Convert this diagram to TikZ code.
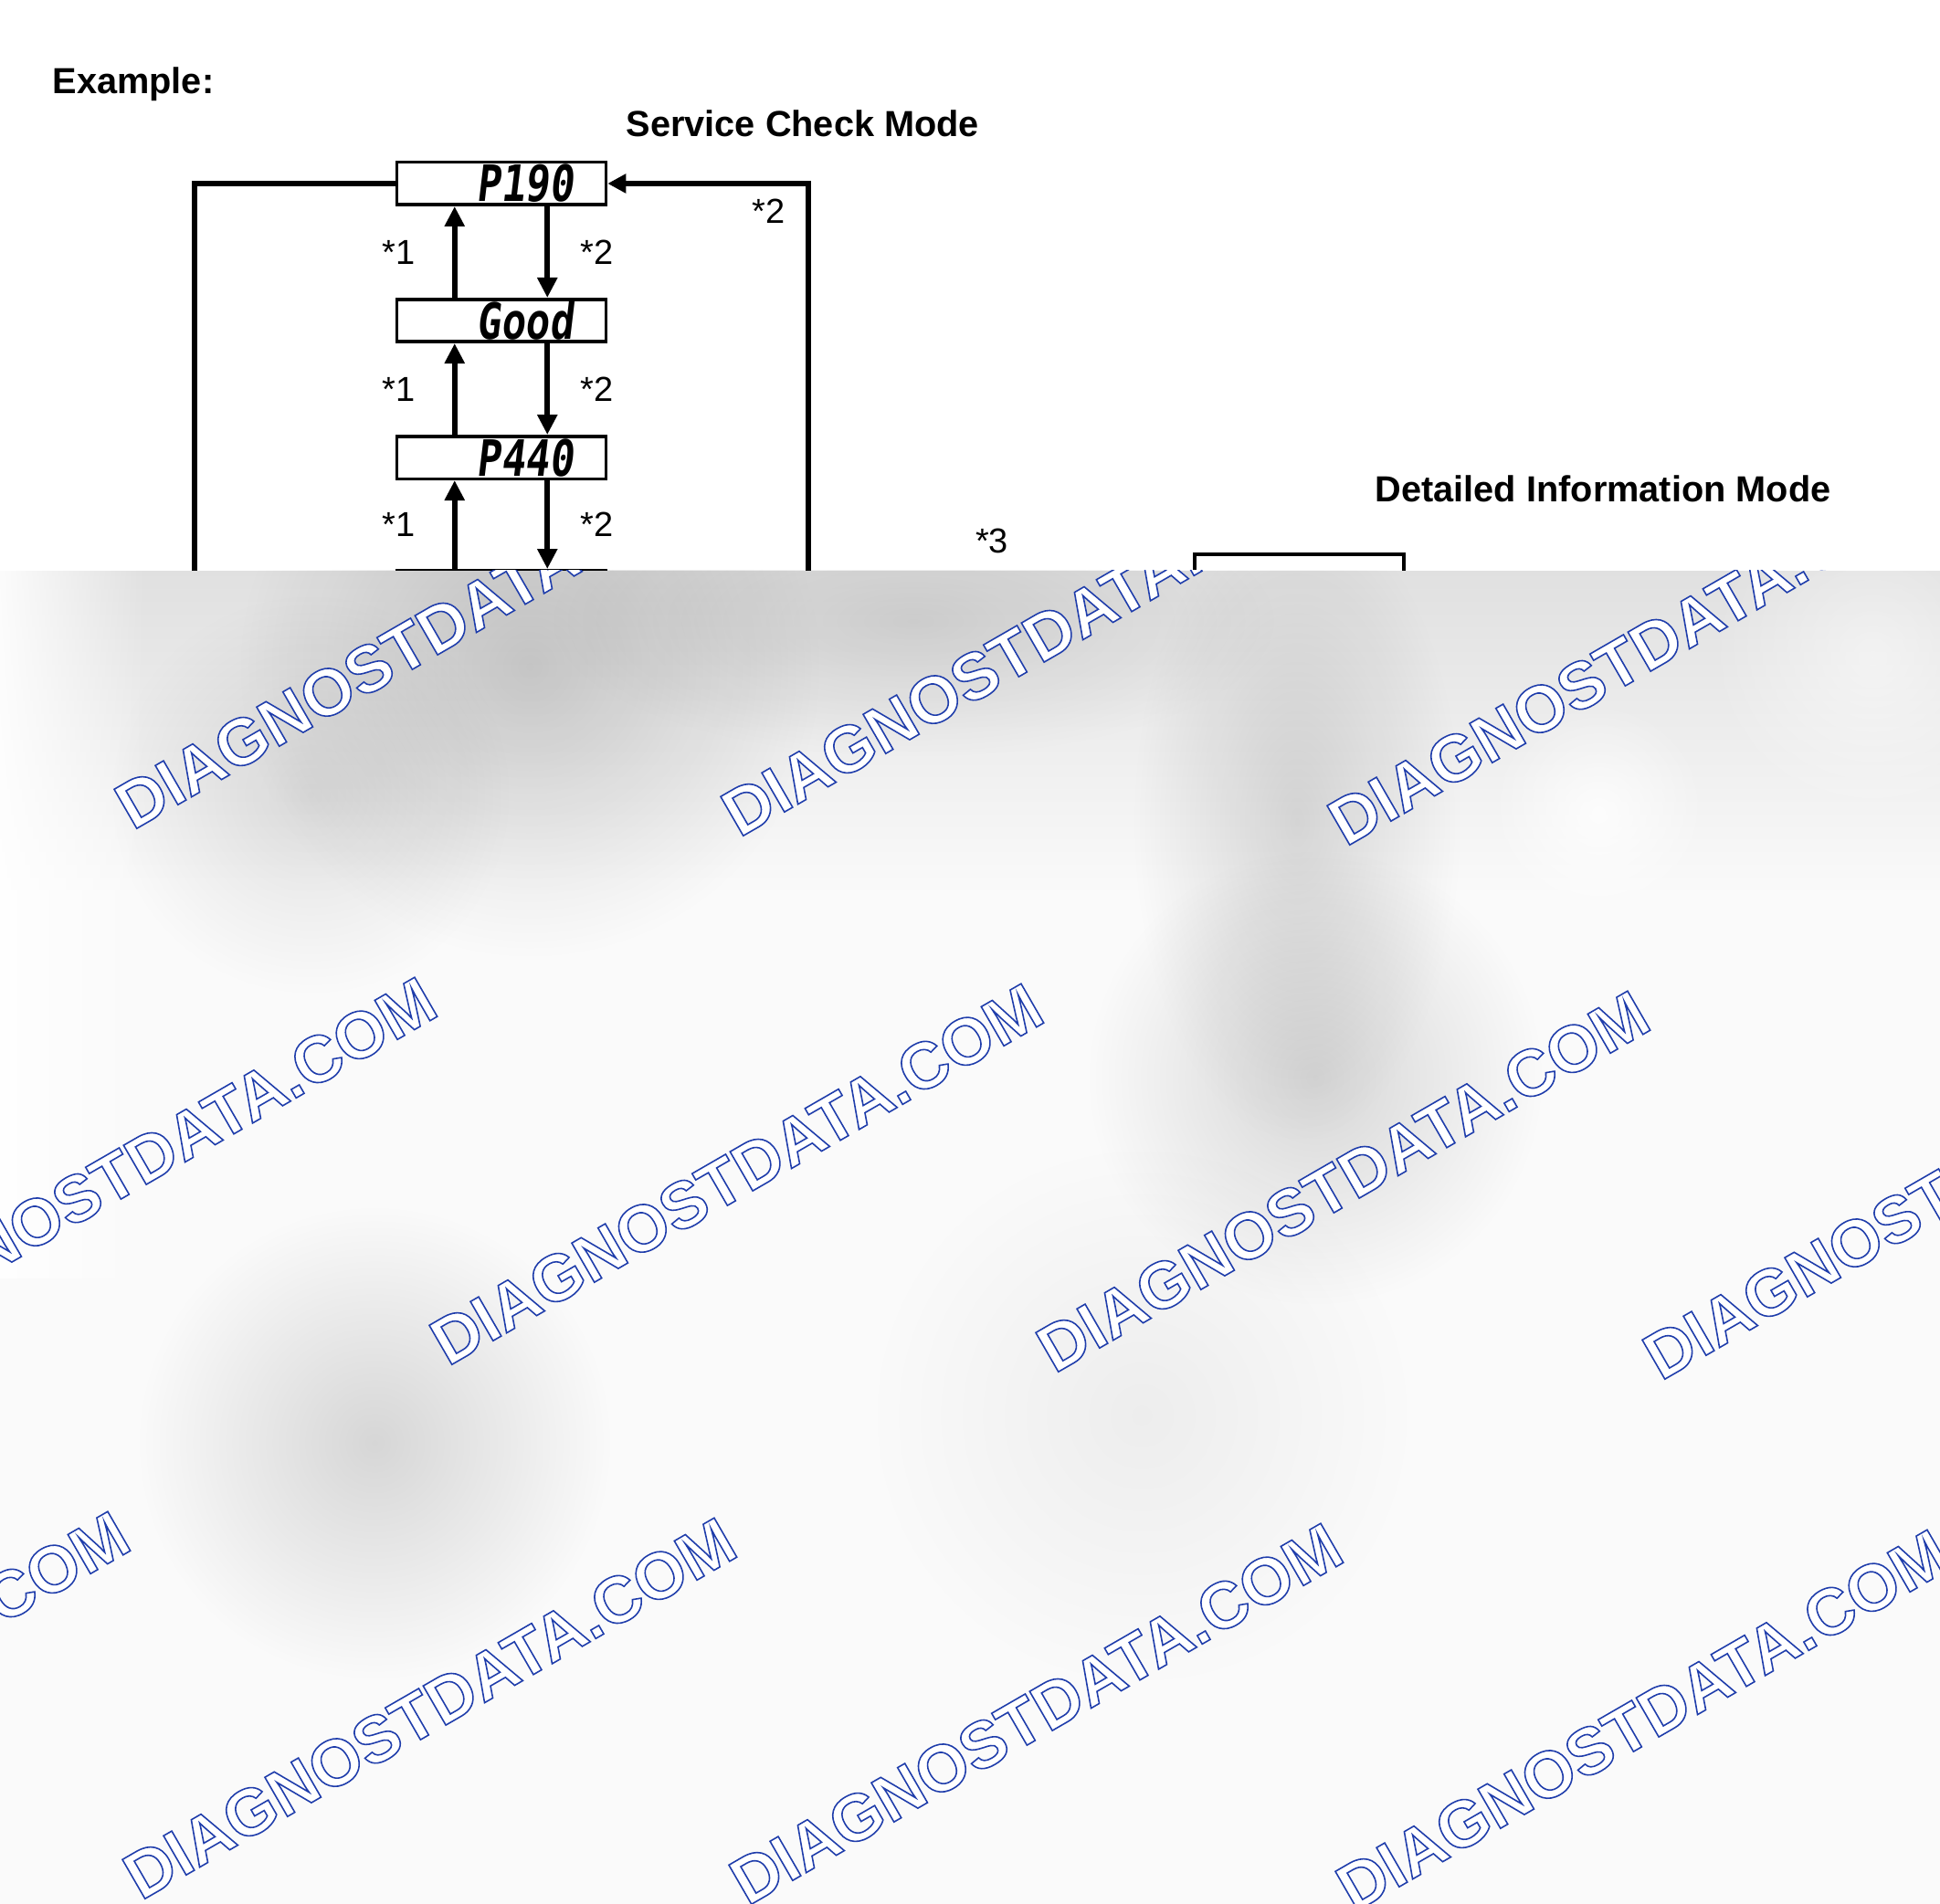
\documentclass[tikz,border=0pt]{standalone}
\usepackage{fontspec}
\setmainfont{Liberation Sans}
\newfontfamily\segfont[FakeSlant=0.12,FakeStretch=0.8]{DejaVu Sans Mono}
\usetikzlibrary{positioning, arrows.meta, fadings}
\tikzfading[name=blob, inner color=transparent!0, outer color=transparent!100]
\tikzfading[name=fadeleft, left color=transparent!0, right color=transparent!100]
\tikzfading[name=fadedown, top color=transparent!0, bottom color=transparent!100]
% outlined text: white fill, blue stroke
\newcommand{\outlined}[1]{\special{pdf:literal direct 0.12 0.24 0.67 RG 2 Tr 0.45 w}#1\special{pdf:literal direct 0 Tr}}

\begin{document}
\begin{tikzpicture}[
	% --- STYLES ---
	node distance=1cm,
	% display boxes
	block/.style={
		draw,
		line width=1pt,
		minimum width=2.29cm,
		minimum height=0.465cm,
		text width=1.57cm,
		inner xsep=0.36cm,
		inner ysep=0.0325cm,
		text height=0.40cm,
		text depth=0pt,
		align=right,
		font=\segfont\bfseries\fontsize{15.6}{16}\selectfont
	},
	% arrows between the boxes
	line/.style={
		-{Triangle[length=0.22cm, width=0.21cm]},
		line width=1.7pt
	},
	% the two long return lines
	back/.style={
		line width=1.9pt
	},
	% headings and small marks
	title/.style={
		font=\bfseries\fontsize{11.3}{13}\selectfont,
		anchor=base west,
		inner sep=0pt
	},
	note/.style={
		font=\fontsize{10.8}{12}\selectfont,
		inner sep=0pt
	},
	wmark/.style={
		rotate=30,
		anchor=base west,
		inner sep=0pt,
		text=white,
		font=\bfseries\fontsize{20.5}{24}\selectfont
	}
	]
	\useasboundingbox (0,0) rectangle (21.24,-20.85);
	
	% --- Titles ---
	\node[title] (example) at (0.57,-1.03) {Example:};
	\node[title] (scm) at (6.85,-1.50) {Service Check Mode};
	\node[title] (dim) at (15.05,-5.50) {Detailed Information Mode};
	
	% --- Nodes ---
	\node[block] (p190) at (5.49,-2.01) {P190};
	\node[block, below=of p190] (good) {Good};
	\node[block, below=of good] (p440) {P440};
	\node[block, below=0.97cm of p440] (p4) {};
	\node[note] (n3) at (10.86,-5.92) {*3};
	\node[block] (d1) at (14.225,-6.30) {};
	
	% --- Connections ---
	\foreach \up/\lo in {p190/good, good/p440, p440/p4} {
		\draw[line] ([xshift=0.65cm]\lo.north west) -- node[note, left=0.4cm] {*1} ([xshift=0.65cm]\up.south west);
		\draw[line] ([xshift=-0.66cm]\up.south east) -- node[note, right=0.33cm] {*2} ([xshift=-0.66cm]\lo.north east);
	}
	
	\coordinate (lbot) at (2.13,-6.6);
	\coordinate (rbot) at (8.85,-6.6);
	\coordinate (rtop) at (rbot |- p190.east);
	\draw[back] (p190.west) -| (lbot);
	\draw[back, -{Triangle[length=0.2cm, width=0.2cm]}] (rbot) |- (p190.east);
	\node[note, anchor=north east] at ([shift={(-0.25,-0.16)}]rtop) {*2};
	
	% --- Cover ---
	\begin{scope}
		\clip (0,-6.25) rectangle (21.24,-20.85);
		\fill[gray!4] (0,-6.25) rectangle (21.24,-20.85);
		\fill[black, opacity=0.10, path fading=fadedown] (0,-6.25) rectangle (21.24,-9.8);
		\fill[black, opacity=0.15, path fading=blob] (5.8,-7.3) circle (3.2);
		\fill[black, opacity=0.10, path fading=blob] (3.4,-8.7) circle (2.2);
		\fill[black, opacity=0.10, path fading=blob] (10.0,-6.8) ellipse (4 and 1.5);
		\fill[black, opacity=0.13, path fading=blob] (14.2,-9.0) ellipse (1.8 and 3.5);
		\fill[black, opacity=0.14, path fading=blob] (14.4,-11.8) circle (2.5);
		\fill[black, opacity=0.14, path fading=blob] (4.1,-15.8) circle (2.6);
		\fill[black, opacity=0.05, path fading=blob] (12.5,-15.5) circle (3);
		\fill[white, opacity=0.8, path fading=blob] (17.5,-8.9) circle (1.2);
		\fill[white, opacity=0.5, path fading=blob] (20.5,-7.2) circle (1.8);
		\fill[white, opacity=0.9, path fading=fadeleft] (0,-6.25) rectangle (1.6,-14);
		\foreach \x/\y in {1.45/-9.10, 8.09/-9.18, 14.73/-9.28,
			-1.74/-14.90, 4.90/-14.97, 11.54/-15.05, 18.18/-15.13,
			-5.10/-20.75, 1.54/-20.82, 8.18/-20.88, 14.82/-20.95}
			\node[wmark] at (\x,\y) {\outlined{DIAGNOSTDATA.COM}};
	\end{scope}
	
\end{tikzpicture}
\end{document}
